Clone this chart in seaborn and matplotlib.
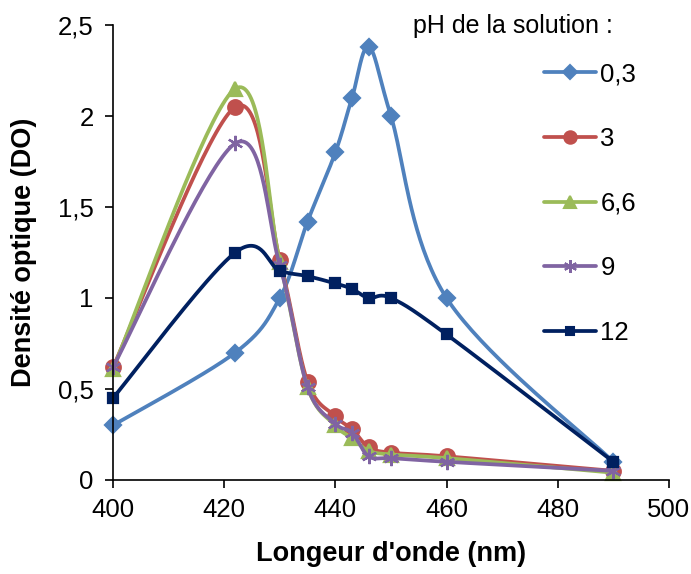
import numpy as np
import pandas as pd
import matplotlib.pyplot as plt
import seaborn as sns
from matplotlib.lines import Line2D

# wavelengths (nm)
wavelength = [400, 422, 430, 435, 440, 443, 446, 450, 460, 490]

# optical density for each pH
do_ph03 = [0.30, 0.70, 1.00, 1.42, 1.80, 2.10, 2.38, 2.00, 1.00, 0.10]
do_ph3 = [0.62, 2.05, 1.21, 0.54, 0.35, 0.28, 0.18, 0.15, 0.13, 0.05]
do_ph66 = [0.61, 2.15, 1.20, 0.51, 0.30, 0.23, 0.16, 0.14, 0.12, 0.04]
do_ph9 = [0.62, 1.85, 1.18, 0.51, 0.31, 0.26, 0.13, 0.12, 0.10, 0.05]
do_ph12 = [0.45, 1.25, 1.15, 1.12, 1.08, 1.05, 1.00, 1.00, 0.80, 0.10]

labels = ["0,3", "3", "6,6", "9", "12"]
series = [do_ph03, do_ph3, do_ph66, do_ph9, do_ph12]
colors = ["#4F81BD", "#C0504D", "#9BBB59", "#8064A2", "#002060"]
markers = ["D", "o", "^", (6, 2, 0), "s"]
msizes = [8.5, 10.5, 10.5, 11, 6.5]


def smooth(x, y, n=40):
    # Excel-like smoothed line: cubic Bezier through the points (Catmull-Rom tangents)
    x = np.asarray(x, float)
    y = np.asarray(y, float)
    px = np.concatenate([[x[0]], x, [x[-1]]])
    py = np.concatenate([[y[0]], y, [y[-1]]])
    t = np.linspace(0, 1, n)[:, None]
    out_x, out_y = [], []
    for i in range(1, len(px) - 2):
        p0 = np.array([px[i], py[i]])
        p3 = np.array([px[i + 1], py[i + 1]])
        p1 = p0 + (np.array([px[i + 1], py[i + 1]]) - np.array([px[i - 1], py[i - 1]])) / 6
        p2 = p3 - (np.array([px[i + 2], py[i + 2]]) - np.array([px[i], py[i]])) / 6
        pts = ((1 - t) ** 3) * p0 + 3 * ((1 - t) ** 2) * t * p1 + 3 * (1 - t) * t ** 2 * p2 + t ** 3 * p3
        out_x.extend(pts[:, 0])
        out_y.extend(pts[:, 1])
    return np.array(out_x), np.array(out_y)


sns.set_style("white")
plt.rcParams['font.family'] = ['Liberation Sans', 'DejaVu Sans']
plt.rcParams['text.color'] = 'black'
plt.rcParams['axes.labelcolor'] = 'black'
plt.rcParams['xtick.color'] = 'black'
plt.rcParams['ytick.color'] = 'black'

fig = plt.figure(figsize=(6.91, 5.74), dpi=100)
ax = fig.add_axes([0.1635, 0.1638, 0.8045, 0.7926])

for vals, col, mk, ms in zip(series, colors, markers, msizes):
    sx, sy = smooth(wavelength, vals)
    df = pd.DataFrame({"x": sx, "y": sy})
    sns.lineplot(data=df, x="x", y="y", color=col, lw=2.7, sort=False,
                 estimator=None, ax=ax, clip_on=False)
    ax.plot(wavelength, vals, linestyle="none", marker=mk, markersize=ms,
            color=col, markeredgecolor=col, markeredgewidth=1.6, clip_on=False)

ax.set_xlim(400, 500)
ax.set_ylim(0, 2.5)
ax.set_xticks([400, 420, 440, 460, 480, 500])
ax.set_yticks([0, 0.5, 1, 1.5, 2, 2.5])
ax.set_yticklabels(["0", "0,5", "1", "1,5", "2", "2,5"])
ax.tick_params(axis="both", labelsize=18.5, length=6, width=1.2, direction="out",
               left=True, bottom=True)
ax.tick_params(axis="x", pad=7)
ax.tick_params(axis="y", pad=8)
for s in ["top", "right"]:
    ax.spines[s].set_visible(False)
for s in ["left", "bottom"]:
    ax.spines[s].set_color("black")
    ax.spines[s].set_linewidth(1.2)

ax.set_xlabel("Longeur d'onde (nm)", fontsize=19.5, fontweight="bold", labelpad=14)
ax.set_ylabel("Densité optique (DO)", fontsize=19.5, fontweight="bold", labelpad=15)

handles = [Line2D([0], [0], color=c, lw=2.7, marker=m, markersize=ms * 0.85,
                  markeredgecolor=c, markeredgewidth=1.5)
           for c, m, ms in zip(colors, markers, msizes)]
ax.legend(handles, labels, loc="upper left", bbox_to_anchor=(0.775, 0.918),
          frameon=False, fontsize=18.5, handlelength=2.05, handletextpad=0.15,
          labelspacing=1.58, borderaxespad=0, borderpad=0)

fig.text(413 / 691, 1 - 26 / 574, "pH de la solution :", fontsize=18,
         ha="left", va="center")

plt.savefig("out.png", dpi=100)
